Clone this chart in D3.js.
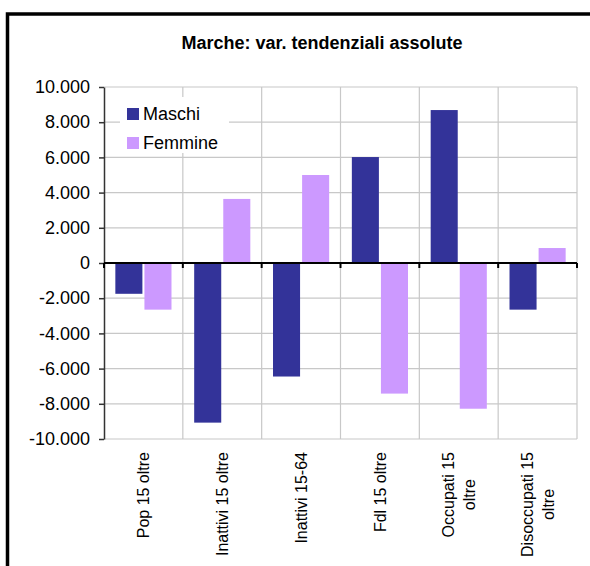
<!DOCTYPE html>
<html>
<head>
<meta charset="utf-8">
<script src="https://cdn.jsdelivr.net/npm/d3@7"></script>
<style>
body{margin:0;background:#fff}
svg{display:block;font-family:Arial,"Liberation Sans",sans-serif}
</style>
</head>
<body>
<div id="chart"></div>
<script>
// dati
const categories = ["Pop 15 oltre", "Inattivi 15 oltre", "Inattivi 15-64", "Fdl 15 oltre", "Occupati 15\noltre", "Disoccupati 15\noltre"]
const series = ["Maschi", "Femmine"]
const maschi = [-1750, -9070, -6450, 6020, 8690, -2650]
const femmine = [-2650, 3640, 5000, -7420, -8280, 850]
const colors = ["#333399", "#cc99ff"]

const width = 590, height = 566
const plot = {left: 104, right: 577, top: 87, bottom: 439}

const svg = d3.select("#chart").append("svg")
	.attr("width", width)
	.attr("height", height)

// cornice esterna (tagliata a destra e in basso)
svg.append("rect")
	.attr("x", 7.5).attr("y", 14)
	.attr("width", 620).attr("height", 600)
	.attr("fill", "#fff")
	.attr("stroke", "#000")
	.attr("stroke-width", 3.5)

svg.append("text")
	.attr("x", 322).attr("y", 49)
	.attr("text-anchor", "middle")
	.style("font-size", "18px")
	.style("font-weight", "bold")
	.text("Marche: var. tendenziali assolute")

const x0 = d3.scaleBand().domain(categories).range([plot.left, plot.right]).padding(0)
const x1 = d3.scaleBand().domain(series).range([0, x0.bandwidth()]).paddingInner(0.07).paddingOuter(0.39)
const y = d3.scaleLinear().domain([-10000, 10000]).range([plot.bottom, plot.top])

const loc = d3.formatLocale({decimal: ",", thousands: ".", grouping: [3], currency: ["", "€"], minus: "-"})
const fmt = loc.format(",d")

// griglia orizzontale
svg.append("g").selectAll("line").data(y.ticks(10)).join("line")
	.attr("x1", plot.left).attr("x2", plot.right)
	.attr("y1", d => y(d)).attr("y2", d => y(d))
	.attr("stroke", "#c8c8c8").attr("stroke-width", 1.2)

// griglia verticale
let bounds = categories.map(c => x0(c)).concat([plot.right])
svg.append("g").selectAll("line").data(bounds.slice(1)).join("line")
	.attr("x1", d => d).attr("x2", d => d)
	.attr("y1", plot.top).attr("y2", plot.bottom)
	.attr("stroke", "#c8c8c8").attr("stroke-width", 1.2)

// legenda (sfondo bianco sopra la griglia)
svg.append("rect")
	.attr("x", 120).attr("y", 97).attr("width", 109).attr("height", 56)
	.attr("fill", "#fff")

// barre
let rows = categories.map((c, i) => ({cat: c, vals: [maschi[i], femmine[i]]}))
let groups = svg.append("g").selectAll("g").data(rows).join("g")
	.attr("transform", d => "translate(" + x0(d.cat) + ",0)")
groups.selectAll("rect").data(d => d.vals.map((v, j) => ({s: series[j], v: v, j: j}))).join("rect")
	.attr("x", d => x1(d.s))
	.attr("width", x1.bandwidth())
	.attr("y", d => y(Math.max(0, d.v)))
	.attr("height", d => Math.abs(y(d.v) - y(0)))
	.attr("fill", d => colors[d.j])

// asse y
let yAxis = svg.append("g")
	.attr("transform", "translate(" + plot.left + ",0)")
	.call(d3.axisLeft(y).ticks(10).tickFormat(fmt).tickSize(5).tickPadding(9).tickSizeOuter(0))
yAxis.select(".domain").attr("stroke", "#333").attr("stroke-width", 1.5)
yAxis.selectAll(".tick line").attr("stroke", "#333").attr("stroke-width", 1.5)
yAxis.selectAll("text")
	.style("font-size", "18px")
	.style("font-family", "Arial, 'Liberation Sans', sans-serif")
	.attr("fill", "#000")

// asse delle categorie sullo zero
svg.append("line")
	.attr("x1", plot.left).attr("x2", plot.right)
	.attr("y1", y(0)).attr("y2", y(0))
	.attr("stroke", "#000").attr("stroke-width", 2)
svg.append("g").selectAll("line").data(bounds).join("line")
	.attr("x1", d => d).attr("x2", d => d)
	.attr("y1", y(0)).attr("y2", y(0) + 5)
	.attr("stroke", "#000").attr("stroke-width", 2)

// etichette categorie ruotate
let labelTop = 452
categories.forEach(function(c) {
	let lines = c.split("\n")
	let cx = x0(c) + x0.bandwidth() / 2
	let g = svg.append("g").attr("transform", "translate(" + cx + "," + labelTop + ") rotate(-90)")
	let t = g.append("text").style("font-size", "16px").attr("text-anchor", "middle")
	lines.forEach(function(l, i) {
		t.append("tspan").attr("x", 0)
			.attr("y", (i - (lines.length - 1) / 2) * 21.3 + 5.6)
			.text(l)
	})
	let w = d3.max(t.selectAll("tspan").nodes(), n => n.getComputedTextLength())
	t.selectAll("tspan").attr("x", -w / 2)
})

// voci della legenda
series.forEach(function(s, i) {
	svg.append("rect")
		.attr("x", 127).attr("y", 108 + i * 29)
		.attr("width", 12).attr("height", 12)
		.attr("fill", colors[i])
	svg.append("text")
		.attr("x", 143).attr("y", 120 + i * 28.5)
		.style("font-size", "18px")
		.text(s)
})
</script>
</body>
</html>
